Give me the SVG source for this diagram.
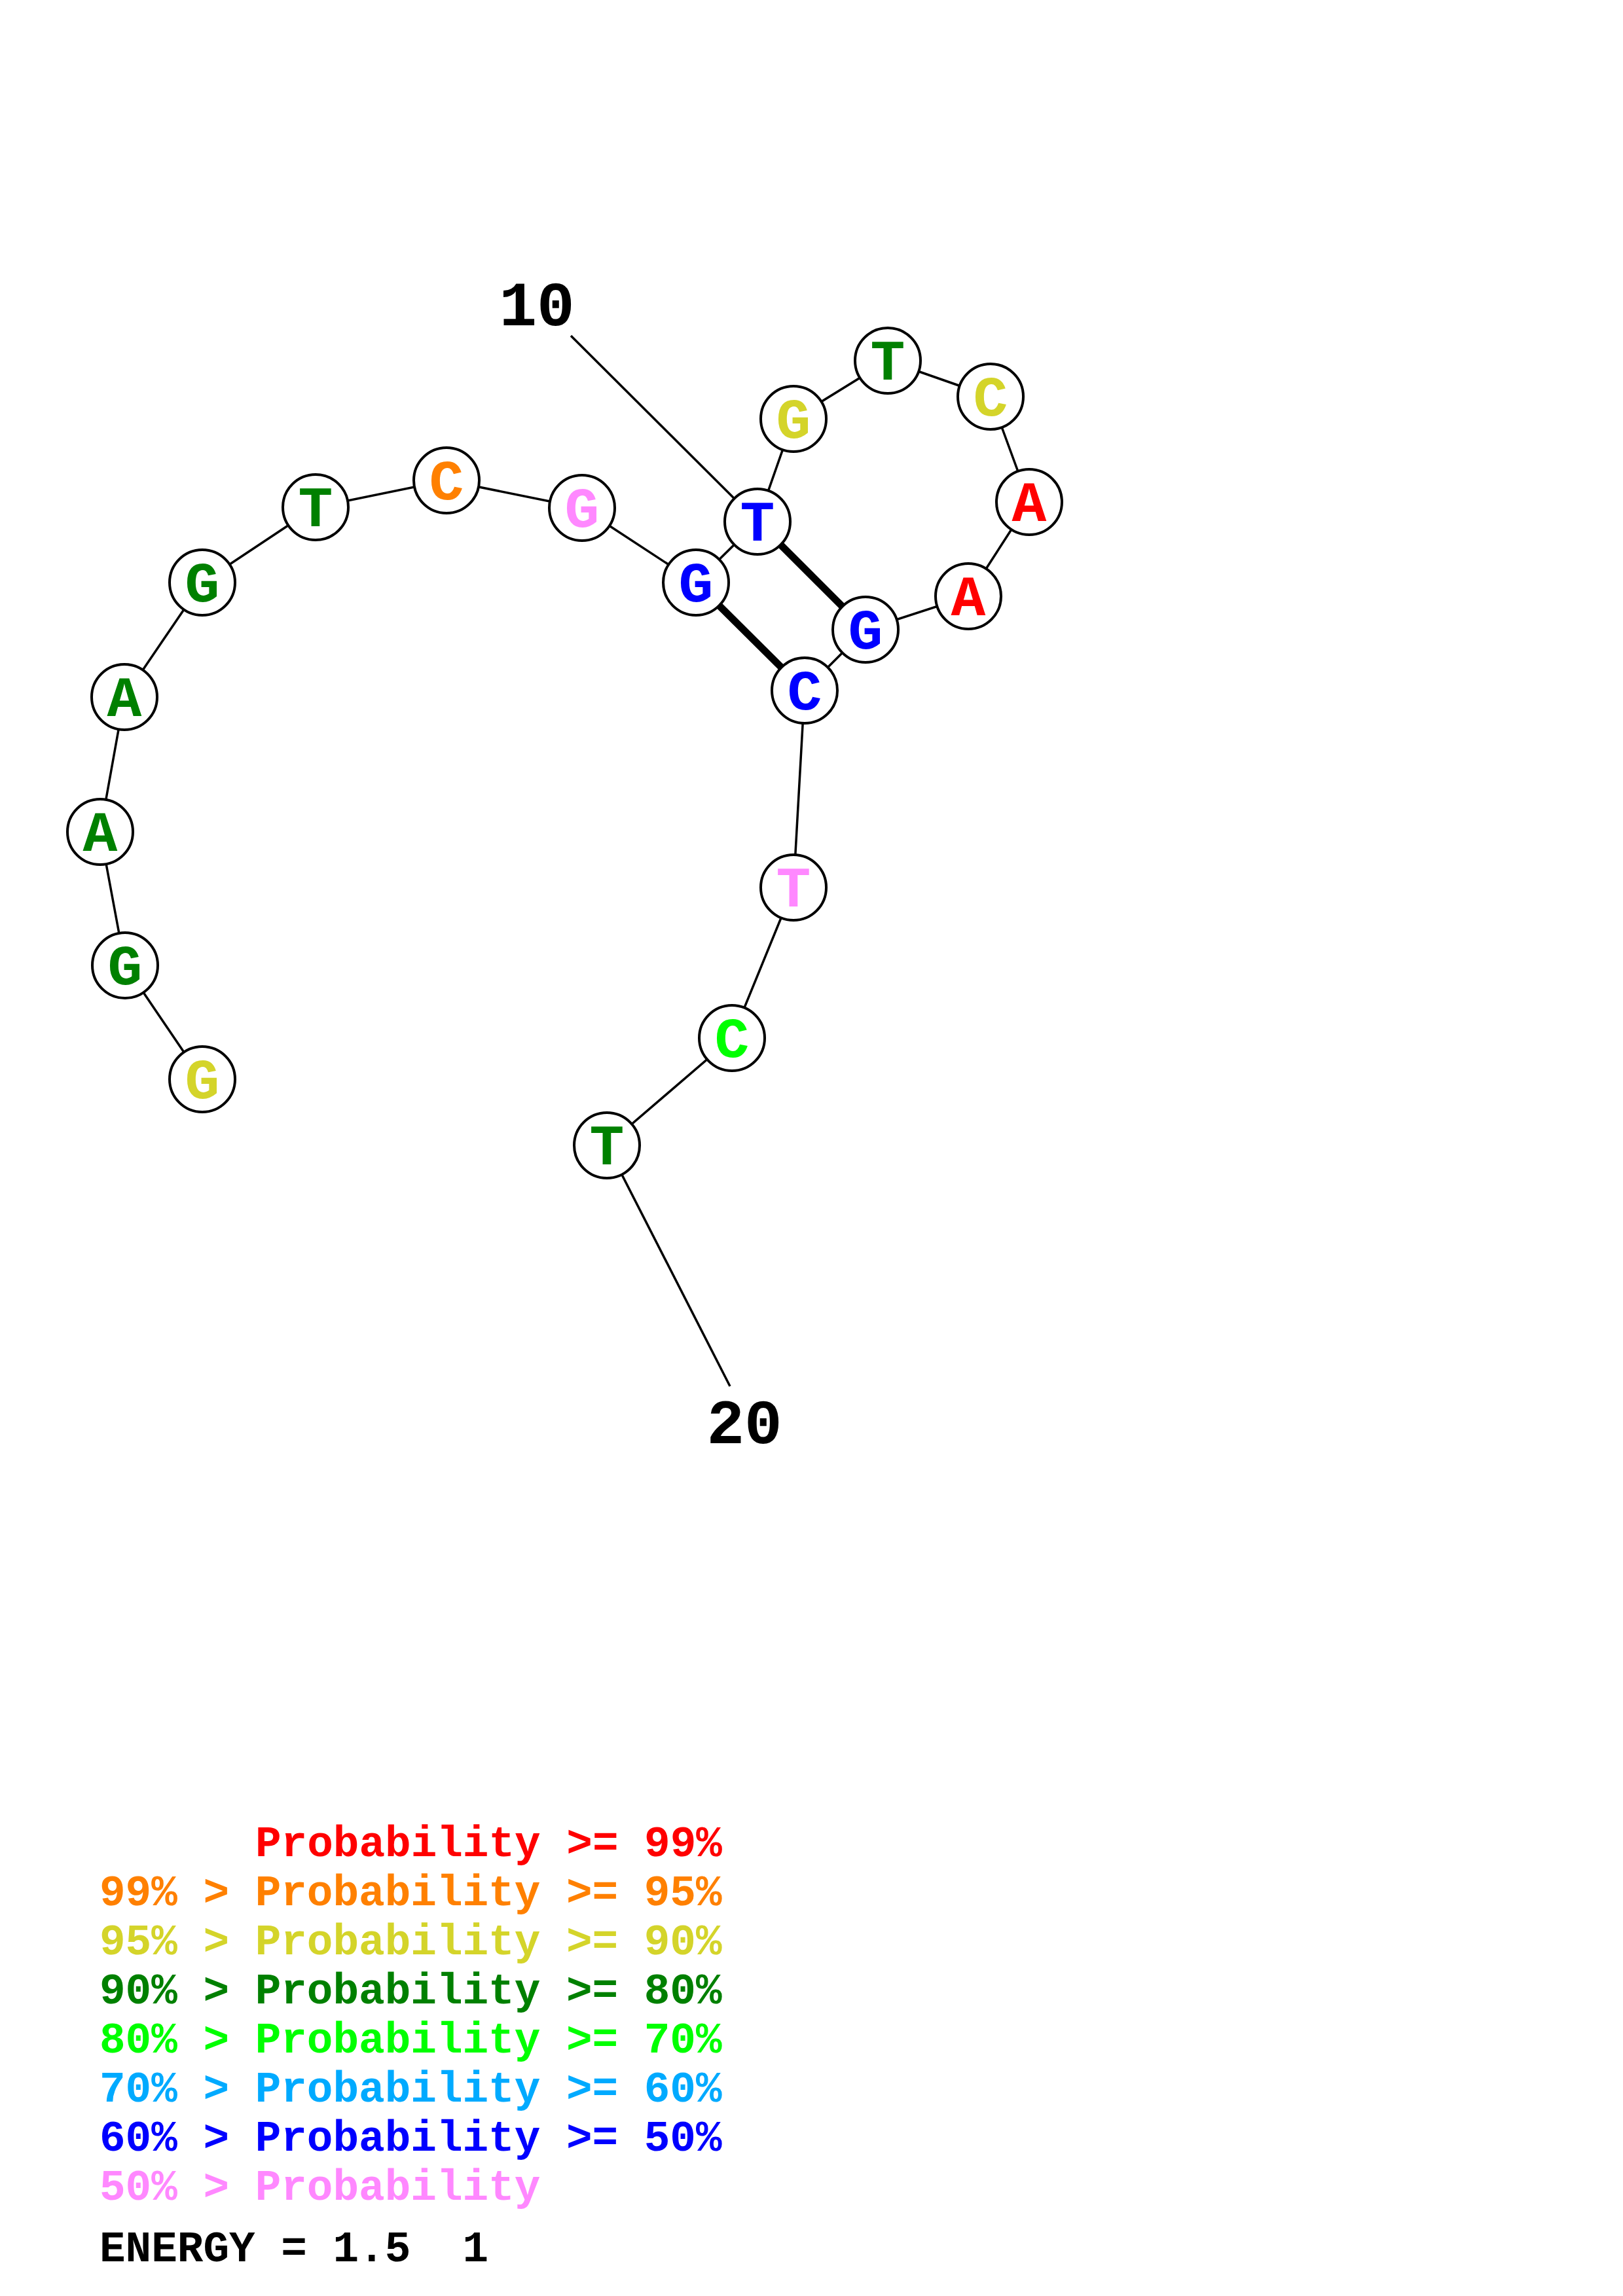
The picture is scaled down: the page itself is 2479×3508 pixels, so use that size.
<svg xmlns="http://www.w3.org/2000/svg" width="2479" height="3508" viewBox="0 0 2479 3508">
<style>
.bb{stroke:#000;stroke-width:3.5;fill:none}
.bp{stroke:#000;stroke-width:11;fill:none}
.nc{fill:#fff;stroke:#000;stroke-width:4}
.nt{font-family:"Liberation Mono","DejaVu Sans Mono",monospace;font-weight:bold;font-size:88px;text-anchor:middle}
.lbl{font-family:"Liberation Mono","DejaVu Sans Mono",monospace;font-weight:bold;font-size:96px;text-anchor:middle;fill:#000}
.lg{font-family:"Liberation Mono","DejaVu Sans Mono",monospace;font-weight:bold;font-size:66px;white-space:pre}
.red{fill:#FF0000}.org{fill:#FF8000}.yel{fill:#D4D42A}.dg{fill:#008000}.lg2{fill:#00FF00}.lb{fill:#00AAFF}.blu{fill:#0000FF}.pnk{fill:#FF88FF}
</style>
<rect width="2479" height="3508" fill="#fff"/>
<g id="connectors">
<polyline class="bb" points="309,1649 191,1475 153,1271 190,1065 309,890 482,775 682,734 889,776 1063,890 1157,797 1212,640 1356,551 1513,606 1572,767 1479,911 1322,962 1229,1055 1212,1356 1118,1586 927,1750"/>
<line class="bp" x1="1063" y1="890" x2="1229" y2="1055"/>
<line class="bp" x1="1157" y1="797" x2="1322" y2="962"/>
<line class="bb" x1="872" y1="513" x2="1157" y2="797"/>
<line class="bb" x1="927" y1="1750" x2="1115" y2="2118"/>
</g>
<g id="n1"><circle class="nc" cx="309" cy="1649" r="50"/><text class="nt yel" x="309" y="1678">G</text></g>
<g id="n2"><circle class="nc" cx="191" cy="1475" r="50"/><text class="nt dg" x="191" y="1504">G</text></g>
<g id="n3"><circle class="nc" cx="153" cy="1271" r="50"/><text class="nt dg" x="153" y="1300">A</text></g>
<g id="n4"><circle class="nc" cx="190" cy="1065" r="50"/><text class="nt dg" x="190" y="1094">A</text></g>
<g id="n5"><circle class="nc" cx="309" cy="890" r="50"/><text class="nt dg" x="309" y="919">G</text></g>
<g id="n6"><circle class="nc" cx="482" cy="775" r="50"/><text class="nt dg" x="482" y="804">T</text></g>
<g id="n7"><circle class="nc" cx="682" cy="734" r="50"/><text class="nt org" x="682" y="763">C</text></g>
<g id="n8"><circle class="nc" cx="889" cy="776" r="50"/><text class="nt pnk" x="889" y="805">G</text></g>
<g id="n9"><circle class="nc" cx="1063" cy="890" r="50"/><text class="nt blu" x="1063" y="919">G</text></g>
<g id="n10"><circle class="nc" cx="1157" cy="797" r="50"/><text class="nt blu" x="1157" y="826">T</text></g>
<g id="n11"><circle class="nc" cx="1212" cy="640" r="50"/><text class="nt yel" x="1212" y="669">G</text></g>
<g id="n12"><circle class="nc" cx="1356" cy="551" r="50"/><text class="nt dg" x="1356" y="580">T</text></g>
<g id="n13"><circle class="nc" cx="1513" cy="606" r="50"/><text class="nt yel" x="1513" y="635">C</text></g>
<g id="n14"><circle class="nc" cx="1572" cy="767" r="50"/><text class="nt red" x="1572" y="796">A</text></g>
<g id="n15"><circle class="nc" cx="1479" cy="911" r="50"/><text class="nt red" x="1479" y="940">A</text></g>
<g id="n16"><circle class="nc" cx="1322" cy="962" r="50"/><text class="nt blu" x="1322" y="991">G</text></g>
<g id="n17"><circle class="nc" cx="1229" cy="1055" r="50"/><text class="nt blu" x="1229" y="1084">C</text></g>
<g id="n18"><circle class="nc" cx="1212" cy="1356" r="50"/><text class="nt pnk" x="1212" y="1385">T</text></g>
<g id="n19"><circle class="nc" cx="1118" cy="1586" r="50"/><text class="nt lg2" x="1118" y="1615">C</text></g>
<g id="n20"><circle class="nc" cx="927" cy="1750" r="50"/><text class="nt dg" x="927" y="1779">T</text></g>
<g id="labels">
<text class="lbl" x="820" y="497">10</text>
<text class="lbl" x="1137" y="2205">20</text>
</g>
<g id="legend">
<text class="lg red" x="390" y="2836">Probability &gt;= 99%</text>
<text class="lg org" x="152" y="2911">99% &gt; Probability &gt;= 95%</text>
<text class="lg yel" x="152" y="2986">95% &gt; Probability &gt;= 90%</text>
<text class="lg dg" x="152" y="3061">90% &gt; Probability &gt;= 80%</text>
<text class="lg lg2" x="152" y="3136">80% &gt; Probability &gt;= 70%</text>
<text class="lg lb" x="152" y="3211">70% &gt; Probability &gt;= 60%</text>
<text class="lg blu" x="152" y="3286">60% &gt; Probability &gt;= 50%</text>
<text class="lg pnk" x="152" y="3361">50% &gt; Probability</text>
<text class="lg" x="152" y="3455" fill="#000" xml:space="preserve">ENERGY = 1.5  1</text>
</g>
</svg>
